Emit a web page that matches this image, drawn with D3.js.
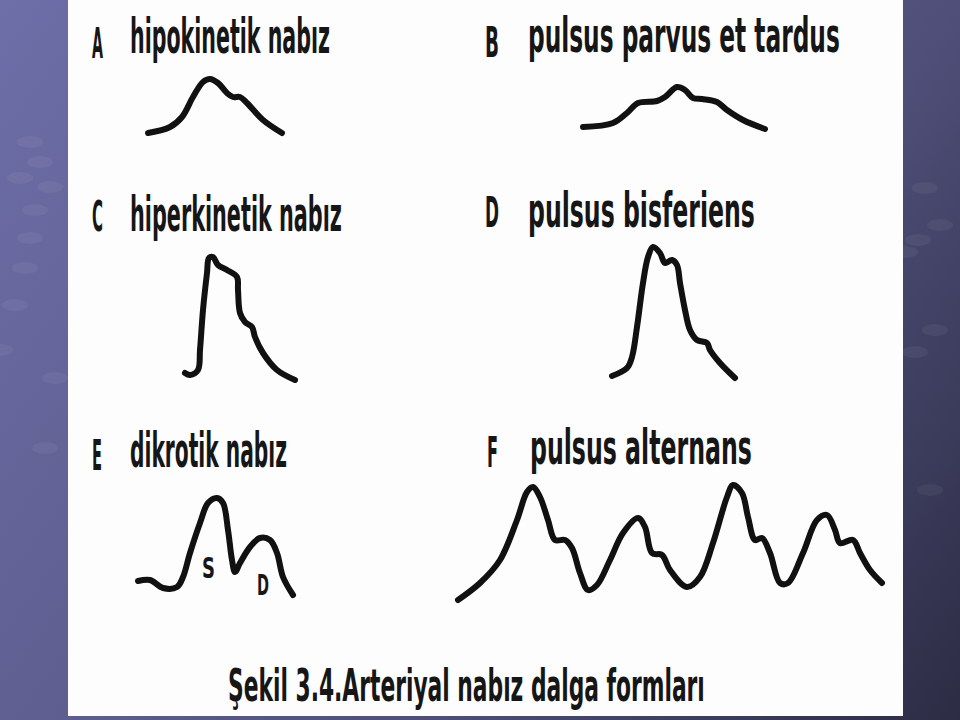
<!DOCTYPE html>
<html>
<head>
<meta charset="utf-8">
<script src="https://cdn.jsdelivr.net/npm/d3@7"></script>
<style>
  html, body { margin: 0; padding: 0; background: #5a5a88; }
  svg { display: block; }
</style>
</head>
<body>
<svg id="chart" width="960" height="720"></svg>
<script>
// ---------- DATA (time units, amplitude units above each trace baseline) ----------
const panelLetters = ["A", "B", "C", "D", "E", "F"];
const panelTitles = [
  "hipokinetik nabız",
  "pulsus parvus et tardus",
  "hiperkinetik nabız",
  "pulsus bisferiens",
  "dikrotik nabız",
  "pulsus alternans"
];
const caption = "Şekil 3.4.Arteriyal nabız dalga formları";
const waveLabels = ["S", "D"];

const waveA_t = [0, 22, 34, 45, 55, 62, 70, 79, 85, 92, 99, 115, 134];
const waveA_v = [2, 8, 18, 38, 53, 56, 52, 42, 38, 38, 32, 15, 2];

const waveB_t = [0, 30, 44, 55, 74, 82, 94, 102, 110, 119, 134, 144, 160, 182];
const waveB_v = [3, 7, 17, 27, 29, 33, 43, 40, 32, 31, 28, 20, 10, 1];

const waveC_t = [0, 5, 13, 15, 18, 22, 24, 28, 33, 42, 52, 53, 55, 60, 67, 70, 78, 92, 110];
const waveC_v = [9, 7, 12, 32, 72, 109, 124, 125, 117, 112, 105, 92, 69, 60, 55, 45, 29, 12, 2];

const waveD_t = [0, 15, 20, 25, 31, 36, 41, 48, 53, 60, 65, 68, 73, 78, 85, 95, 98, 108, 123];
const waveD_v = [4, 12, 23, 53, 97, 123, 133, 127, 117, 120, 115, 97, 70, 50, 40, 37, 30, 17, 2];

const waveE_t = [0, 12, 25, 39, 45, 52, 62, 70, 79, 85, 90, 94, 97, 102, 112, 122, 132, 139, 145, 155];
const waveE_v = [17, 18, 10, 11, 21, 45, 75, 95, 100, 95, 68, 38, 26, 35, 51, 60, 58, 45, 21, 3];

const waveF_t = [0, 22, 42, 59, 69, 75, 82, 90, 97, 107, 114, 122, 130, 139, 152, 165, 180, 187, 194, 204,
                 212, 229, 242, 255, 269, 275, 284, 290, 297, 304, 312, 322, 330, 345, 359, 369, 377, 382,
                 395, 402, 412, 424];
const waveF_v = [2, 19, 42, 82, 110, 115, 105, 82, 62, 62, 54, 29, 12, 17, 42, 69, 84, 75, 49, 47,
                 32, 15, 25, 59, 105, 117, 109, 85, 62, 64, 49, 19, 19, 49, 82, 87, 72, 59,
                 62, 49, 32, 19];

// ---------- LAYOUT ----------
const W = 960, H = 720;
const svg = d3.select("#chart");

const defs = svg.append("defs");
const grad = defs.append("linearGradient")
  .attr("id", "bg").attr("gradientUnits", "userSpaceOnUse")
  .attr("x1", 0).attr("y1", 0).attr("x2", W).attr("y2", H);
grad.append("stop").attr("offset", "0").attr("stop-color", "#6e6ea8");
grad.append("stop").attr("offset", "0.4").attr("stop-color", "#5e5e90");
grad.append("stop").attr("offset", "0.65").attr("stop-color", "#4e4e78");
grad.append("stop").attr("offset", "1").attr("stop-color", "#2c2c44");

svg.append("rect").attr("width", W).attr("height", H).attr("fill", "url(#bg)");

// faint decorative dots of the slide background
const dotG = svg.append("g").attr("fill", "#ffffff").attr("fill-opacity", 0.05);
[[30,142],[40,162],[20,178],[50,187],[35,210],[30,238],[25,268],[15,305],[0,350],[55,378],[45,448],
 [925,188],[940,225],[918,240],[905,252],[935,330],[915,352],[930,490]].forEach(p => {
  dotG.append("ellipse").attr("cx", p[0]).attr("cy", p[1]).attr("rx", 13).attr("ry", 6);
});

// white page
svg.append("rect").attr("x", 68).attr("y", 0).attr("width", 835).attr("height", 716)
  .attr("fill", "#fdfdfd");

const FONT = "'DejaVu Sans Condensed', 'DejaVu Sans', sans-serif";

// text squeezed horizontally to the condensed look of the original figure
function txt(str, x, y, size, len) {
  const t = svg.append("text")
    .attr("x", 0).attr("y", 0)
    .attr("font-family", FONT)
    .attr("font-stretch", "condensed")
    .attr("font-weight", "bold")
    .attr("font-size", size)
    .attr("fill", "#161616")
    .text(str);
  const natural = t.node().getComputedTextLength();
  const sx = natural > 0 ? len / natural : 1;
  t.attr("transform", `translate(${x},${y}) scale(${sx},1)`);
  return t;
}

// label layout: [letterX, letterBaseline, letterWidth, titleX, titleBaseline, titleWidth]
const labelPos = [
  [92, 58, 11, 130, 53, 200],
  [485, 57, 14, 528, 52, 312],
  [92, 231, 11, 130, 231, 212],
  [485, 227, 14, 528, 227, 227],
  [92, 470, 10, 130, 467, 157],
  [487, 467, 11, 530, 464, 222]
];
panelLetters.forEach((L, i) => {
  const p = labelPos[i];
  txt(L, p[0], p[1], 43, p[2]);
  txt(panelTitles[i], p[3], p[4], 48, p[5]);
});

txt(caption, 228, 701, 45, 477);

// waveform panels: origin x, baseline y
const waves = [
  { t: waveA_t, v: waveA_v, x0: 148, base: 135 },
  { t: waveB_t, v: waveB_v, x0: 583, base: 130 },
  { t: waveC_t, v: waveC_v, x0: 185, base: 382 },
  { t: waveD_t, v: waveD_v, x0: 612, base: 380 },
  { t: waveE_t, v: waveE_v, x0: 138, base: 598 },
  { t: waveF_t, v: waveF_v, x0: 458, base: 602 }
];

waves.forEach(w => {
  const tMax = d3.max(w.t);
  const x = d3.scaleLinear().domain([0, tMax]).range([w.x0, w.x0 + tMax]);
  const y = d3.scaleLinear().domain([0, 100]).range([w.base, w.base - 100]);
  const pts = w.t.map((t, i) => [t, w.v[i]]);
  const line = d3.line()
    .x(d => x(d[0])).y(d => y(d[1]))
    .curve(d3.curveCatmullRom.alpha(0.5));
  svg.append("path")
    .attr("d", line(pts))
    .attr("fill", "none")
    .attr("stroke", "#111")
    .attr("stroke-width", 6)
    .attr("stroke-linecap", "round")
    .attr("stroke-linejoin", "round");
});

// S and D marks inside the dicrotic trace
txt(waveLabels[0], 202, 578, 28, 13);
txt(waveLabels[1], 257, 595, 28, 12);
</script>
</body>
</html>
